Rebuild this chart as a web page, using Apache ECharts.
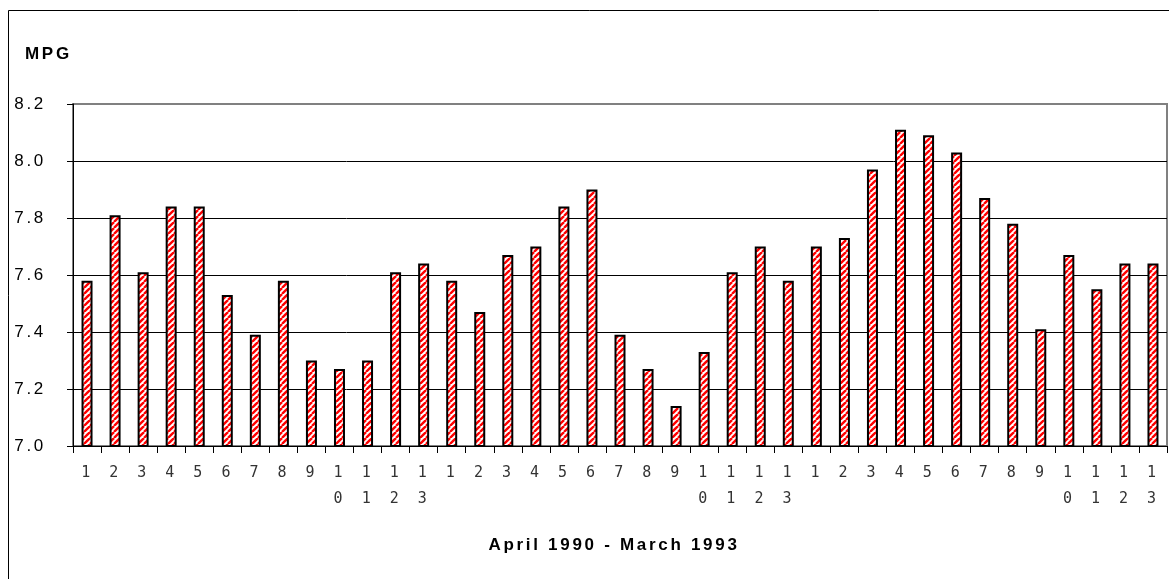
<!DOCTYPE html>
<html>
<head>
<meta charset="utf-8">
<script src="https://cdn.jsdelivr.net/npm/echarts@6/dist/echarts.min.js"></script>
<style>html,body{margin:0;padding:0;background:#fff}#c{width:1169px;height:579px}</style>
</head>
<body>
<div id="c"></div>
<script>
const categories = ['1','2','3','4','5','6','7','8','9','10','11','12','13',
                    '1','2','3','4','5','6','7','8','9','10','11','12','13',
                    '1','2','3','4','5','6','7','8','9','10','11','12','13'];
const mpg = [7.58,7.81,7.61,7.84,7.84,7.53,7.39,7.58,7.30,7.27,7.30,7.61,7.64,
             7.58,7.47,7.67,7.70,7.84,7.90,7.39,7.27,7.14,7.33,7.61,7.70,7.58,
             7.70,7.73,7.97,8.11,8.09,8.03,7.87,7.78,7.41,7.67,7.55,7.64,7.64];
const yTicks = [7.0, 7.2, 7.4, 7.6, 7.8, 8.0, 8.2];

// widen letter spacing of all drawn text (the original uses spaced lettering)
(function () {
  const P = CanvasRenderingContext2D.prototype;
  const origFill = P.fillText;
  P.fillText = function () {
    try { this.letterSpacing = '2.7px'; } catch (e) {}
    return origFill.apply(this, arguments);
  };
})();

// stripe pattern
const pc = document.createElement('canvas');
pc.width = 6; pc.height = 6;
const g = pc.getContext('2d');
g.fillStyle = '#ffffff'; g.fillRect(0,0,6,6);
g.strokeStyle = '#ff0000'; g.lineWidth = 2.4;
for (let k = -6; k <= 12; k += 6) {
  g.beginPath(); g.moveTo(k, 6); g.lineTo(k + 6, 0); g.stroke();
}

const chart = echarts.init(document.getElementById('c'));
chart.setOption({
  animation: false,
  title: {
    text: 'MPG', left: 20, top: 41,
    textStyle: {fontFamily: 'Liberation Sans, Arial', fontWeight: 'bold', fontSize: 17, color: '#000'}
  },
  graphic: [{
    type: 'rect',
    shape: {x: 8.5, y: 10.5, width: 1175, height: 585},
    style: {fill: 'none', stroke: '#000', lineWidth: 1}, z: -1
  }],
  grid: {left: 73, right: 2, top: 104, bottom: 133, show: true, borderColor: '#808080', borderWidth: 2,
         containLabel: false, outerBoundsMode: 'none'},
  xAxis: {
    type: 'category', data: categories,
    name: 'April 1990 - March 1993', nameLocation: 'middle', nameGap: 91,
    nameTextStyle: {fontFamily: 'Liberation Sans, Arial', fontWeight: 'bold', fontSize: 17, color: '#000',
                    padding: [0, 12, 0, 0]},
    axisLine: {lineStyle: {color: '#000', width: 1}},
    axisTick: {show: true, length: 7, lineStyle: {color: '#000'}},
    axisLabel: {
      interval: 0, margin: 14, color: '#333', fontFamily: 'DejaVu Sans Mono, Liberation Mono', fontSize: 15,
      lineHeight: 26, formatter: v => v.split('').join('\n'), verticalAlign: 'top'
    }
  },
  yAxis: {
    type: 'value', min: yTicks[0], max: yTicks[yTicks.length - 1], interval: 0.2,
    axisLine: {show: true, lineStyle: {color: '#000', width: 1}},
    axisTick: {show: true, length: 6, lineStyle: {color: '#000'}},
    axisLabel: {
      margin: 27, color: '#000', fontFamily: 'Liberation Sans, Arial', fontSize: 17,
      formatter: v => Number(v).toFixed(1), padding: [0, 0, 4, 0]
    },
    splitLine: {lineStyle: {color: ['#000', '#000', '#000', '#000', '#000', '#000', '#808080'], width: 1}}
  },
  series: [{
    type: 'bar', data: mpg, barWidth: 11,
    itemStyle: {color: {image: pc, repeat: 'repeat'}, borderColor: '#000', borderWidth: 2}
  }]
});
</script>
</body>
</html>
